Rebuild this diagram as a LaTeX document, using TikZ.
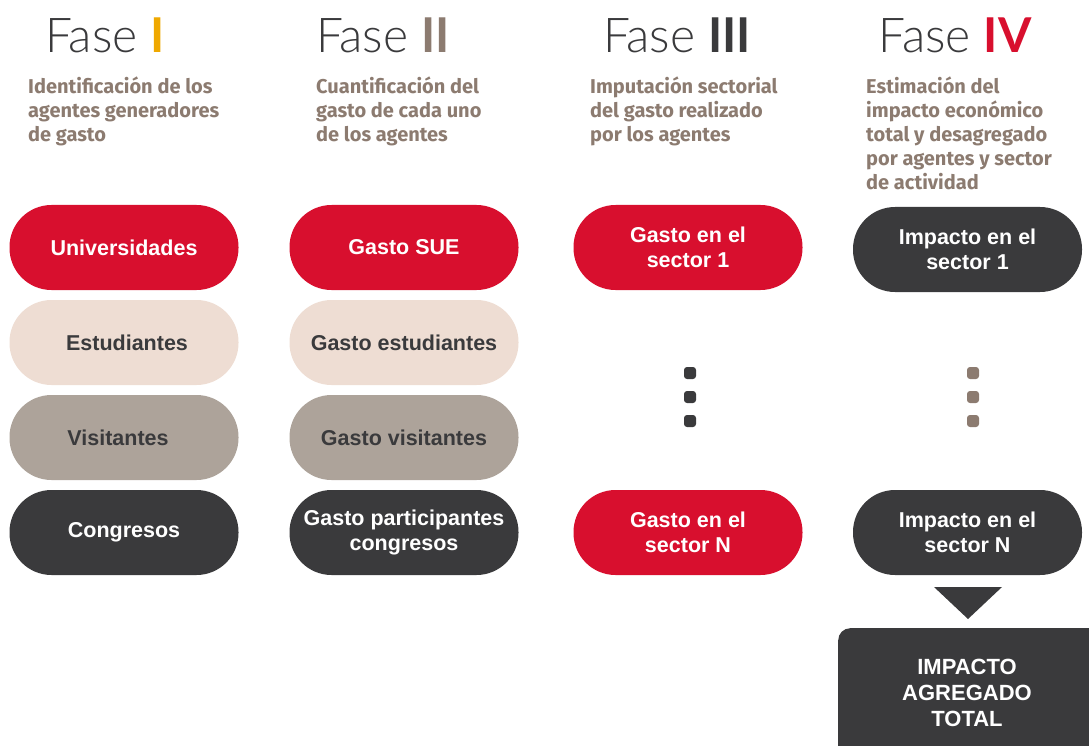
\documentclass[tikz,border=0pt]{standalone}
\usepackage{fontspec}
\setmainfont{Liberation Sans}
\IfFontExistsTF{Lato Light}{\newfontfamily\fasefont{Lato Light}}{\newfontfamily\fasefont{Lato}}
\newfontfamily\fasebold{Lato}
\newfontfamily\descfont{Fira Sans}
\definecolor{cred}{HTML}{D80F2E}
\definecolor{cbeige}{HTML}{EEDDD3}
\definecolor{ctaupe}{HTML}{ADA39A}
\definecolor{cdark}{HTML}{3A3A3C}
\definecolor{cdesc}{HTML}{8C7B70}
\definecolor{camber}{HTML}{EFA800}
\tikzset{
  pill/.style={rectangle, rounded corners=42pt, minimum width=229pt, minimum height=85pt,
    align=center, inner sep=0pt, font=\fontsize{21.5}{24.5}\selectfont\bfseries},
  redpill/.style={pill, fill=cred, text=white},
  beigepill/.style={pill, fill=cbeige, text=cdark},
  taupepill/.style={pill, fill=ctaupe, text=cdark},
  darkpill/.style={pill, fill=cdark, text=white},
  fase/.style={anchor=base, inner sep=0pt, text=cdark, font=\fontsize{48}{48}\fasefont},
  desc/.style={anchor=north west, align=left, inner sep=0pt, text=cdesc,
    font=\fontsize{20}{24}\descfont\bfseries},
  dotsq/.style={rectangle, rounded corners=3pt, minimum size=12pt, inner sep=0pt},
}
\begin{document}
\begin{tikzpicture}[x=1pt,y=-1pt]
\useasboundingbox (0,0) rectangle (1089,746);
% headers
\node[fase] (f1) at (105,53) {Fase {\fasebold\bfseries\color{camber}I}};
\node[fase] (f2) at (383,53) {Fase {\fasebold\bfseries\color{cdesc}II}};
\node[fase] (f3) at (677,53) {Fase {\fasebold\bfseries\color{cdark}III}};
\node[fase] (f4) at (955,53) {Fase {\fasebold\bfseries\color{cred}IV}};
\node[desc] (d1) at (28,77) {Identificación de los\\agentes generadores\\de gasto};
\node[desc] (d2) at (316,77) {Cuantificación del\\gasto de cada uno\\de los agentes};
\node[desc] (d3) at (590,77) {Imputación sectorial\\del gasto realizado\\por los agentes};
\node[desc] (d4) at (866,77) {Estimación del\\impacto económico\\total y desagregado\\por agentes y sector\\de actividad};
% column 1
\node[redpill] (a1) at (124,247.5) {Universidades};
\node[beigepill] (a2) at (124,342.5) {\hspace*{6pt}Estudiantes};
\node[taupepill] (a3) at (124,437.5) {Visitantes\hspace*{12pt}};
\node[darkpill] (a4) at (124,532.5) {Congresos};
% column 2
\node[redpill] (b1) at (404,247.5) {Gasto SUE};
\node[beigepill] (b2) at (404,342.5) {Gasto estudiantes};
\node[taupepill] (b3) at (404,437.5) {Gasto visitantes};
\node[darkpill] (b4) at (404,532.5) {Gasto participantes\\congresos};
% column 3
\node[redpill] (c1) at (688,247.5) {Gasto en el\\sector 1};
\node[redpill] (c4) at (688,532.5) {Gasto en el\\sector N};
\node[dotsq, fill=cdark] (cd1) at (690,373) {};
\node[dotsq, fill=cdark] (cd2) at (690,397) {};
\node[dotsq, fill=cdark] (cd3) at (690,421) {};
% column 4
\node[darkpill] (e1) at (967.5,249.5) {Impacto en el\\sector 1};
\node[darkpill] (e4) at (967.5,532.5) {Impacto en el\\sector N};
\node[dotsq, fill=cdesc] (ed1) at (973,373) {};
\node[dotsq, fill=cdesc] (ed2) at (973,397) {};
\node[dotsq, fill=cdesc] (ed3) at (973,421) {};
% arrow and total
\fill[cdark] (934,587) -- (1002,587) -- (968,619) -- cycle;
\node[rectangle, rounded corners=12pt, fill=cdark, minimum width=280pt, minimum height=140pt,
  anchor=north west, inner sep=0pt] (tot) at (838,628) {};
\node[align=center, text=white, inner sep=0pt, font=\fontsize{22}{26}\selectfont\bfseries]
  (tott) at (967,693) {IMPACTO\\AGREGADO\\TOTAL};
\end{tikzpicture}
\end{document}
